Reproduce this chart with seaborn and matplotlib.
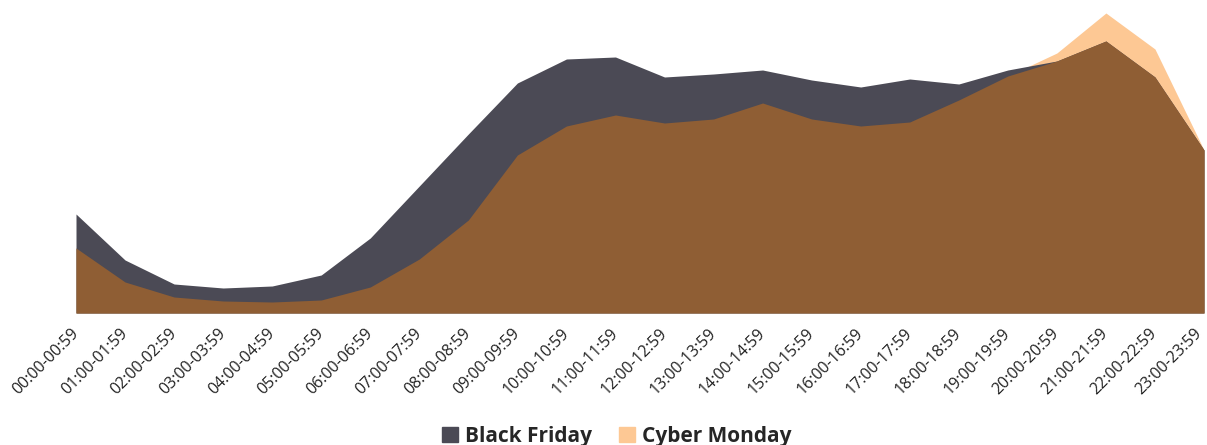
import numpy as np
import pandas as pd
import matplotlib
matplotlib.use("Agg")
import matplotlib.pyplot as plt
import matplotlib.transforms as mtransforms
import seaborn as sns
from matplotlib.patches import Patch

hours = [
    "00:00-00:59", "01:00-01:59", "02:00-02:59", "03:00-03:59", "04:00-04:59",
    "05:00-05:59", "06:00-06:59", "07:00-07:59", "08:00-08:59", "09:00-09:59",
    "10:00-10:59", "11:00-11:59", "12:00-12:59", "13:00-13:59", "14:00-14:59",
    "15:00-15:59", "16:00-16:59", "17:00-17:59", "18:00-18:59", "19:00-19:59",
    "20:00-20:59", "21:00-21:59", "22:00-22:59", "23:00-23:59",
]
black_friday = [99, 53, 29, 25, 27, 38, 75, 127, 179, 230, 254, 256,
                236, 239, 243, 233, 226, 234, 229, 243, 252, 272, 236, 163]
cyber_monday = [65, 31, 16, 12, 11, 13, 26, 54, 93, 158, 187, 198,
                190, 194, 210, 194, 187, 191, 213, 237, 260, 300, 264, 163]

BF_COLOR = "#4b4a55"
CM_COLOR = "#fdc894"
OVERLAP_COLOR = "#8f5e34"

df = pd.DataFrame({"hour": hours, "Black Friday": black_friday, "Cyber Monday": cyber_monday})
x = np.arange(len(hours))
bf = df["Black Friday"].to_numpy()
cm = df["Cyber Monday"].to_numpy()

sns.set_style("white")
plt.rcParams["font.family"] = ["Open Sans", "DejaVu Sans"]

fig = plt.figure(figsize=(12.07, 4.45), dpi=100)
ax = fig.add_axes([76 / 1207, 1 - 313 / 445, (1204 - 76) / 1207, 303 / 445])

sns.lineplot(x=x, y=cm, ax=ax, color=CM_COLOR, linewidth=0)
sns.lineplot(x=x, y=bf, ax=ax, color=BF_COLOR, linewidth=0)
ax.fill_between(x, 0, cm, color=CM_COLOR, linewidth=0)
ax.fill_between(x, 0, bf, color=BF_COLOR, linewidth=0)
ax.fill_between(x, 0, np.minimum(bf, cm), color=OVERLAP_COLOR, linewidth=0)

ax.set_xlim(0, len(hours) - 1)
ax.set_ylim(0, 303)
ax.set_xticks(x)
ax.set_xticklabels(hours, rotation=45, ha="right", va="center",
                   rotation_mode="anchor", fontsize=11.5, color="#222222")
ax.tick_params(axis="x", length=0, pad=13)
ax.set_yticks([])
ax.set_xlabel("")
ax.set_ylabel("")
for s in ax.spines.values():
    s.set_visible(False)

# keep the last hour label inside the canvas
last = ax.get_xticklabels()[-1]
last.set_transform(last.get_transform()
                   + mtransforms.ScaledTranslation(-5 / 100, 0, fig.dpi_scale_trans))

handles = [Patch(color=BF_COLOR, label="Black Friday"),
           Patch(color=CM_COLOR, label="Cyber Monday")]
leg = fig.legend(handles=handles, loc="center", bbox_to_anchor=(0.511, 0.02),
                 ncol=2, frameon=False, handlelength=0.75, handleheight=0.75,
                 handletextpad=0.35, columnspacing=1.3,
                 prop={"weight": "bold", "size": 15})

fig.savefig("out.png", dpi=100)
